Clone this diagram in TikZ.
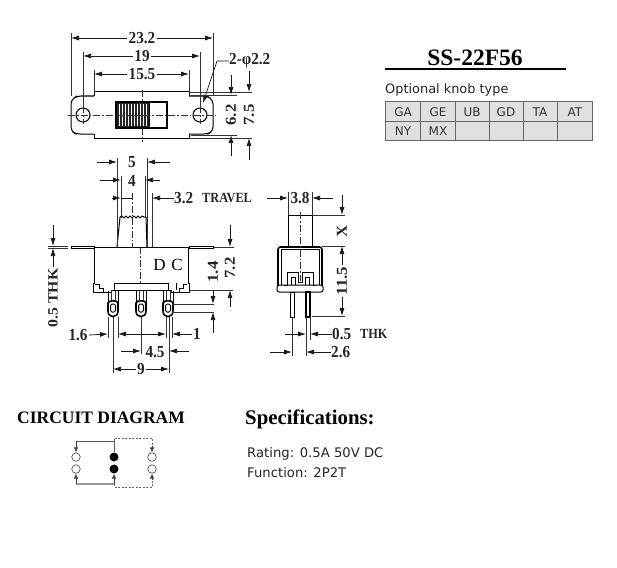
\documentclass[tikz,border=0pt]{standalone}
\usepackage{fontspec}
\setmainfont{Liberation Serif}
\newfontfamily\uifont{DejaVu Sans}
\usetikzlibrary{arrows.meta}
\tikzset{
  dimtxt/.style={font=\fontsize{16}{16}\selectfont\bfseries, inner sep=1.5pt, text=black!85, yscale=1.05, xscale=.95},
  captxt/.style={font=\fontsize{14}{14}\selectfont\bfseries, inner sep=1.5pt, text=black!85, xscale=.88},
  dimarrow/.style={line width=.75pt, -{Latex[length=8pt,width=5pt]}, black!90},
  ext/.style={line width=.6pt, black!80},
  outline/.style={line width=1pt, black},
  heavy/.style={line width=1.6pt, black},
  center/.style={line width=.6pt, black!80, dash pattern=on 7pt off 2pt on 1.5pt off 2pt},
  cell/.style={font=\uifont\fontsize{12}{12}\selectfont, text=black!80, inner sep=0pt},
  uitxt/.style={font=\uifont\fontsize{12.9}{13}\selectfont, text=black!85, inner sep=0pt, anchor=west},
  heading/.style={font=\bfseries, inner sep=0pt, anchor=west},
  wire/.style={line width=.7pt, black!65},
  wirearrow/.style={line width=.7pt, black!75, -{Latex[length=5pt,width=4.5pt]}},
  dashwire/.style={line width=.5pt, black!60, dash pattern=on 2pt off 1.5pt},
  port/.style={circle,draw=black!75,line width=.6pt, fill=white, minimum size=8.5pt, inner sep=0pt},
  contact/.style={circle,fill=black, minimum size=9pt, inner sep=0pt}
}
\begin{document}
\begin{tikzpicture}[x=1pt,y=-1pt]
\useasboundingbox (0,0) rectangle (617,567);
\fill[white] (0,0) rectangle (617,567);

% ---------- top view ----------
\draw[outline,rounded corners=4pt] (94,96) -- (77,96) -- (71,100) -- (71,131) -- (76,134) -- (94,134);
\draw[outline,rounded corners=4pt] (189,96) -- (207,96) -- (213,100) -- (213,131) -- (208,134) -- (189,134);
\draw[outline] (94,96) -- (94,92) -- (189,92) -- (189,96);
\draw[outline] (94,134) -- (94,138) -- (189,138) -- (189,134);
\fill[black!85] (116,102) rectangle (149,128);
\foreach \sx in {119,122,...,147} \draw[white,line width=.45pt] (\sx,104) -- (\sx,126);
\draw[heavy] (116,102) rectangle (167,128);
\draw[line width=.7pt] (149,102) -- (149,128);
\draw[outline] (83,115) circle[radius=7];
\draw[outline] (200,115) circle[radius=7];
\draw[center] (68,115) -- (216,115);
\draw[center] (142,90) -- (142,142);
\draw[center] (83,106) -- (83,124);
\draw[center] (200,106) -- (200,124);

\draw[ext] (71,33) -- (71,96);
\draw[ext] (213,33) -- (213,96);
\draw[ext] (83,52) -- (83,108);
\draw[ext] (200,52) -- (200,108);
\draw[ext] (94,70) -- (94,92);
\draw[ext] (189,70) -- (189,92);

\node[dimtxt] (d232) at (142,38) {23.2};
\draw[dimarrow] (d232.west) -- (71,38);
\draw[dimarrow] (d232.east) -- (213,38);
\node[dimtxt] (d19) at (142,56) {19};
\draw[dimarrow] (d19.west) -- (83,56);
\draw[dimarrow] (d19.east) -- (200,56);
\node[dimtxt] (d155) at (142,74) {15.5};
\draw[dimarrow] (d155.west) -- (94,74);
\draw[dimarrow] (d155.east) -- (189,74);

\node[dimtxt,anchor=west,inner sep=0pt] (dhole) at (229,61) {2-φ2.2};
\draw[dimarrow] (dhole.west) -- (217,61) -- (203,103);

\draw[ext] (191,95) -- (237,95);
\draw[ext] (189,92) -- (252,92);
\draw[ext] (191,135) -- (237,135);
\draw[ext] (189,138) -- (252,138);
\node[dimtxt,rotate=90] (d62) at (231,115) {6.2};
\node[dimtxt,rotate=90] (d75) at (249,115) {7.5};
\coordinate (a62t) at (231,75);
\coordinate (a62b) at (231,156);
\coordinate (a75t) at (249,71);
\coordinate (a75b) at (249,160);
\draw[dimarrow] (a62t) -- (231,95);
\draw[dimarrow] (a62b) -- (231,135);
\draw[dimarrow] (a75t) -- (249,92);
\draw[dimarrow] (a75b) -- (249,138);

% ---------- front view ----------
\draw[outline] (94,247) -- (94,283) -- (93,283) -- (93,292) -- (111,292) -- (111,290) -- (171,290) -- (171,292) -- (189,292) -- (189,283) -- (188,283) -- (188,247);
\draw[outline] (94,247) -- (189,247);
\draw[outline] (71,246) rectangle (94,248);
\draw[outline] (189,246) rectangle (213,248);
\draw[outline] (114,290) -- (114,283) -- (168,283) -- (168,290);
\draw[line width=.8pt] (95,284) -- (99,284) -- (99,288) -- (103,288) -- (103,292);
\draw[line width=.8pt] (187,284) -- (183,284) -- (183,288) -- (179,288) -- (179,292);
\draw[line width=.8pt] (176,283) -- (176,290);
\draw[outline] (117,247) -- (120,217);
\draw[outline] (147,247) -- (146,217);
\draw[line width=1pt] plot[smooth] coordinates {(120,217) (122,216) (124,218) (126,216) (128,218) (130,216) (132,218) (134,216) (136,218) (138,216) (140,218) (142,216) (144,217) (146,217)};
\draw[center] (132,193) -- (132,247);
\draw[center] (140,247) -- (140,284);

\foreach \px in {113,141,168}{
  \draw[line width=1.6pt] (\px-5,303) -- (\px-5,311) .. controls (\px-5,318.5) and (\px+5,318.5) .. (\px+5,311) -- (\px+5,303) .. controls (\px+5,300) and (\px-5,300) .. (\px-5,303) -- cycle;
  \draw[outline] (\px-5,291) -- (\px-5,303);
  \draw[outline] (\px+5,291) -- (\px+5,303);
  \draw[line width=1pt,rounded corners=1.5pt] (\px-2.5,304) rectangle (\px+2.5,312);
  \draw[ext] (\px-2,291) -- (\px-2,301);
  \draw[ext] (\px+2,291) -- (\px+2,301);
}

\node[font=\fontsize{17}{17}\selectfont,inner sep=0pt] (dc) at (168,265) {D\,\,C};

% dimensions of knob
\draw[ext] (117,158) -- (117,247);
\draw[ext] (147,158) -- (147,247);
\draw[ext] (121,176) -- (121,218);
\draw[ext] (145,176) -- (145,218);
\draw[ext] (152,193) -- (152,247);
\node[dimtxt] (d5) at (132,162) {5};
\coordinate (a5l) at (97,162);
\coordinate (a5r) at (170,162);
\draw[dimarrow] (a5l) -- (117,162);
\draw[dimarrow] (a5r) -- (147,162);
\node[dimtxt] (d4) at (132,181) {4};
\coordinate (a4l) at (100,180);
\coordinate (a4r) at (160,180);
\draw[dimarrow] (a4l) -- (121,180);
\draw[dimarrow] (a4r) -- (145,180);
\coordinate (a32l) at (112,198);
\draw[dimarrow] (a32l) -- (121,198);
\draw[line width=.75pt,black!90] (121,198) -- (132,198);
\node[dimtxt,anchor=west,inner sep=0pt] (d32) at (174,198) {3.2};
\node[captxt,anchor=west,inner sep=0pt] (dtravel) at (202,198) {TRAVEL};
\draw[dimarrow] (d32.west) -- (152,198);

% 0.5 THK left
\draw[ext] (48,246) -- (68,246);
\draw[ext] (48,248) -- (68,248);
\coordinate (a05t) at (53,225);
\draw[dimarrow] (a05t) -- (53,246);
\node[dimtxt,rotate=90,font=\fontsize{15}{15}\selectfont\bfseries] (d05) at (53,298) {0.5 THK};
\draw[dimarrow] (d05.east) -- (53,248);

% 7.2 and 1.4
\draw[ext] (214,247) -- (234,247);
\draw[ext] (190,290) -- (233,290);
\draw[ext] (172,304) -- (214,304);
\draw[ext] (172,312) -- (214,312);
\node[dimtxt,rotate=90] (d72) at (230,268) {7.2};
\node[dimtxt,rotate=90] (d14) at (213,272) {1.4};
\coordinate (a72t) at (230,225);
\coordinate (a72b) at (230,307);
\coordinate (a14t) at (213,290);
\coordinate (a14b) at (213,333);
\draw[dimarrow] (a72t) -- (230,247);
\draw[dimarrow] (a72b) -- (230,290);
\draw[dimarrow] (a14t) -- (213,304);
\draw[dimarrow] (a14b) -- (213,312);

% bottom dimensions
\draw[ext] (108,317) -- (108,338);
\draw[ext] (118,317) -- (118,338);
\draw[ext] (166,317) -- (166,338);
\draw[ext] (172,317) -- (172,338);
\draw[ext] (113,317) -- (113,373);
\draw[ext] (141,317) -- (141,354);
\draw[ext] (169,317) -- (169,373);
\node[dimtxt] (d16) at (78,335) {1.6};
\draw[dimarrow] (d16.east) -- (108,334);
\coordinate (ami) at (142,334);
\draw[dimarrow] (ami) -- (118,334);
\draw[dimarrow] (ami) -- (166,334);
\node[dimtxt] (d1) at (197,334) {1};
\draw[dimarrow] (d1.west) -- (172,334);
\node[dimtxt] (d45) at (155,352) {4.5};
\coordinate (a45l) at (121,351);
\coordinate (a45r) at (189,351);
\draw[dimarrow] (a45l) -- (141,351);
\draw[dimarrow] (a45r) -- (169,351);
\node[dimtxt] (d9) at (141,369) {9};
\draw[dimarrow] (d9.west) -- (113,369);
\draw[dimarrow] (d9.east) -- (169,369);

% ---------- side view ----------
\draw[outline] (288,246) -- (288,215) -- (312,215) -- (312,246);
\draw[heavy,rounded corners=2.5pt] (278,286) -- (278,247) -- (322,247) -- (322,286);
\draw[outline] (281,285) -- (281,249) -- (319,249) -- (319,285);
\draw[outline,rounded corners=2pt] (277,285) -- (277,292) -- (323,292) -- (323,285) -- cycle;
\draw[outline] (284,285) -- (287,285) -- (287,272) -- (298,272) -- (298,282) -- (302,282) -- (302,272) -- (313,272) -- (313,285) -- (316,285);
\draw[line width=.7pt] (291,285) -- (291,277) -- (295,277) -- (295,285);
\draw[line width=.7pt] (305,285) -- (305,277) -- (309,277) -- (309,285);
\draw[center] (300,212) -- (300,281);
\draw[outline] (290,292) rectangle (294,317);
\draw[line width=1.2pt] (306,292) rectangle (310,317);

\draw[ext] (288,192) -- (288,215);
\draw[ext] (312,192) -- (312,215);
\node[dimtxt] (d38) at (300,198) {3.8};
\coordinate (a38l) at (267,198);
\coordinate (a38r) at (333,198);
\draw[dimarrow] (a38l) -- (288,198);
\draw[dimarrow] (a38r) -- (312,198);
\draw[ext] (312,215) -- (345,215);
\draw[ext] (322,246) -- (345,246);
\draw[ext] (312,316) -- (345,316);
\coordinate (a xt) at (342,195);
\draw[dimarrow] (a xt) -- (342,215);
\node[dimtxt,rotate=90] (dx) at (342,231) {X};
\node[dimtxt,rotate=90] (d115) at (342,281) {11.5};
\draw[dimarrow] (d115.east) -- (342,246);
\draw[dimarrow] (d115.west) -- (342,316);
\draw[ext] (292,317) -- (292,356);
\draw[ext] (306,317) -- (306,356);
\draw[ext] (310,317) -- (310,340);
\node[dimtxt,anchor=west,inner sep=0pt] (d05b) at (332,334) {0.5};
\node[captxt,anchor=west,inner sep=0pt] (dthk) at (360,334) {THK};
\coordinate (a05l) at (285,334);
\draw[dimarrow] (a05l) -- (306,334);
\draw[dimarrow] (d05b.west) -- (310,334);
\node[dimtxt,anchor=west,inner sep=0pt] (d26) at (331,352) {2.6};
\coordinate (a26l) at (270,352);
\draw[dimarrow] (a26l) -- (292,352);
\draw[dimarrow] (d26.west) -- (306,352);

% ---------- title and table ----------
\node[font=\fontsize{23.5}{24}\selectfont\bfseries,inner sep=0pt] (title) at (475,58) {SS-22F56};
\coordinate (rl) at (385,69);
\coordinate (rr) at (566,69);
\draw[line width=1.5pt] (rl) -- (rr);
\node[uitxt] (opt) at (385,90) {Optional knob type};
\fill[black!12] (385,101) rectangle (592,140);
\draw[line width=.9pt,black!60] (385,101) rectangle (592,140);
\draw[line width=.7pt,black!60] (385,121) -- (592,121);
\foreach \cx in {420,455,489,523,557} \draw[line width=.7pt,black!60] (\cx,101) -- (\cx,140);
\node[cell] (c1) at (403,112) {GA};
\node[cell] (c2) at (438,112) {GE};
\node[cell] (c3) at (472,112) {UB};
\node[cell] (c4) at (506,112) {GD};
\node[cell] (c5) at (540,112) {TA};
\node[cell] (c6) at (575,112) {AT};
\node[cell] (c7) at (403,131) {NY};
\node[cell] (c8) at (438,131) {MX};

% ---------- circuit ----------
\node[heading,font=\fontsize{17.5}{18}\selectfont\bfseries] (ct) at (17,418) {CIRCUIT DIAGRAM};
\node[heading,font=\fontsize{20.8}{21}\selectfont\bfseries] (st) at (245,419) {Specifications:};
\node[uitxt,font=\uifont\fontsize{13.2}{14}\selectfont] (rate) at (247,454) {Rating: 0.5A 50V DC};
\node[uitxt,font=\uifont\fontsize{13.2}{14}\selectfont] (func) at (247,473) {Function: 2P2T};

\node[port] (p1) at (76,457) {};
\node[port] (p2) at (76,469) {};
\node[contact] (p3) at (114,457) {};
\node[contact] (p4) at (114,469) {};
\node[port] (p5) at (152,457) {};
\node[port] (p6) at (152,469) {};
\draw[wire] (p3.north) -- (114,441) -- (76,441);
\draw[wirearrow] (76,441) -- (p1.north);
\draw[line width=1.1pt,black!40] (76,484) -- (114,484);
\draw[wirearrow] (76,484) -- (p2.south);
\draw[wirearrow] (114,484) -- (p4.south);
\draw[dashwire] (114,441) -- (114,438) -- (152,438) -- (152,447);
\draw[wirearrow] (152,446) -- (p5.north);
\draw[dashwire] (114,484) -- (114,487) -- (152,487) -- (152,479);
\draw[wirearrow] (152,480) -- (p6.south);
\end{tikzpicture}
\end{document}
